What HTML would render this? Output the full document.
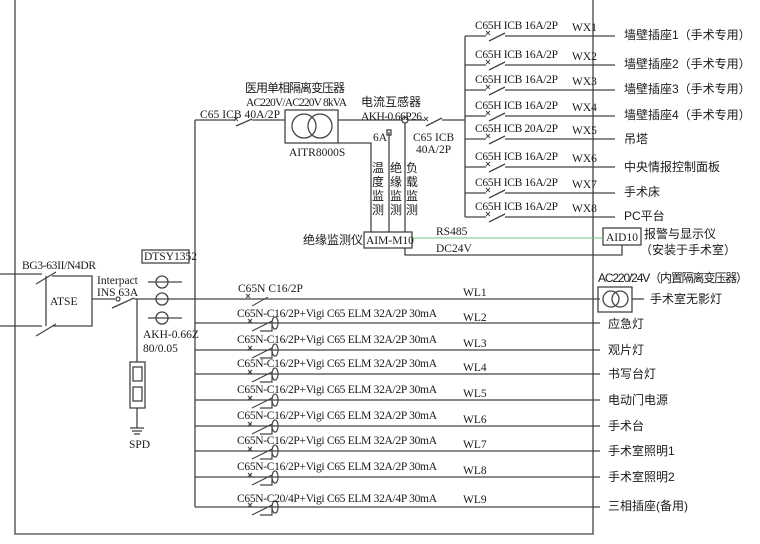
<!DOCTYPE html>
<html><head><meta charset="utf-8"><style>
html,body{margin:0;padding:0;background:#fff;}
svg{display:block;}
text{font-family:"Liberation Serif","Noto Serif CJK SC",serif;font-size:11.5px;fill:#1a1a1a;}
.c{font-family:"Liberation Sans","Noto Sans CJK SC",sans-serif;font-size:12px;}
</style></head><body>
<svg width="760" height="544" viewBox="0 0 760 544" xmlns="http://www.w3.org/2000/svg">
<g stroke="#444" stroke-width="1.3" fill="none">
<polyline points="15,0 15,534 593,534 593,0"/>
<line x1="0" y1="274" x2="42" y2="274"/>
<line x1="0" y1="326" x2="42" y2="326"/>
<line x1="36" y1="284" x2="56" y2="272"/>
<line x1="36" y1="336" x2="56" y2="324"/>
<polyline points="52,276 92,276 92,326 52,326"/>
<line x1="46" y1="276" x2="46" y2="326"/>
<line x1="92" y1="299" x2="115" y2="299"/>
<circle cx="118" cy="299" r="2"/>
<line x1="112" y1="308" x2="134" y2="298"/>
<line x1="134" y1="299" x2="600" y2="299"/>
<line x1="137" y1="299" x2="137" y2="362"/>
<rect x="130" y="362" width="15" height="46"/>
<rect x="133" y="367" width="9" height="14"/>
<rect x="133" y="387" width="9" height="14"/>
<line x1="137" y1="408" x2="137" y2="428"/>
<line x1="130" y1="428" x2="144" y2="428"/>
<line x1="132" y1="431" x2="142" y2="431"/>
<line x1="134" y1="434" x2="140" y2="434"/>
<rect x="142" y="250" width="47" height="13"/>
<circle cx="162" cy="282" r="6"/><line x1="148" y1="282" x2="182" y2="282"/>
<circle cx="162" cy="299" r="6"/>
<circle cx="162" cy="318" r="6"/><line x1="148" y1="318" x2="182" y2="318"/>
<line x1="195" y1="120" x2="195" y2="507"/>
<line x1="195" y1="120" x2="235" y2="120"/>
<line x1="236" y1="126" x2="252" y2="119"/>
<line x1="252" y1="120" x2="285" y2="120"/>
<rect x="285" y="110" width="53" height="33"/>
<circle cx="304" cy="126" r="12"/><circle cx="320" cy="126" r="12"/>
<line x1="338" y1="120" x2="402" y2="120"/>
<circle cx="405" cy="120" r="3"/>
<line x1="408" y1="120" x2="424" y2="120"/>
<line x1="426" y1="126" x2="442" y2="118"/>
<line x1="442" y1="120" x2="465" y2="120"/>
<polyline points="338,143 371,143 371,232"/>
<line x1="389" y1="132" x2="389" y2="232"/>
<rect x="387" y="130" width="4" height="5"/>
<line x1="405" y1="123" x2="405" y2="232"/>
<rect x="364" y="232" width="48" height="16"/>
<polyline points="405,248 405,255 622,255 622,245"/>
<rect x="603" y="228" width="38" height="17"/>
<line x1="465" y1="36" x2="465" y2="217"/>
<rect x="598" y="287" width="34" height="25"/>
<circle cx="611" cy="299" r="8"/><circle cx="620" cy="299" r="8"/>
<line x1="632" y1="299" x2="644" y2="299"/>
</g>
<line x1="412" y1="238" x2="603" y2="238" stroke="#7ac27a" stroke-width="1"/>
<g stroke="#444" stroke-width="1.3" fill="none">
<path d="M465,36H486M489,41L505,33M505,36H615"/>
<path d="M465,65H486M489,70L505,62M505,65H615"/>
<path d="M465,90H486M489,95L505,87M505,90H615"/>
<path d="M465,116H486M489,121L505,113M505,116H615"/>
<path d="M465,139H486M489,144L505,136M505,139H615"/>
<path d="M465,167H486M489,172L505,164M505,167H615"/>
<path d="M465,193H486M489,198L505,190M505,193H615"/>
<path d="M465,217H486M489,222L505,214M505,217H615"/>
</g>
<g stroke="#444" stroke-width="1" fill="none">
<path d="M486,31l4,4m0,-4l-4,4M486,60l4,4m0,-4l-4,4M486,85l4,4m0,-4l-4,4M486,111l4,4m0,-4l-4,4M486,134l4,4m0,-4l-4,4M486,162l4,4m0,-4l-4,4M486,188l4,4m0,-4l-4,4M486,212l4,4m0,-4l-4,4"/>
<path d="M246,294l4,4m0,-4l-4,4M234,117l4,4m0,-4l-4,4M424,117l4,4m0,-4l-4,4"/>
<path d="M252,306L268,297"/>
</g>
<g stroke="#444" stroke-width="1.2" fill="none">
<path d="M195,323H600M248,319l4,4m0,-4l-4,4M252,331L272,321M260,331H272V321M275,317a3,6 0 1,0 0.1,0"/>
<path d="M195,350H600M248,346l4,4m0,-4l-4,4M252,358L272,348M260,358H272V348M275,344a3,6 0 1,0 0.1,0"/>
<path d="M195,374H600M248,370l4,4m0,-4l-4,4M252,382L272,372M260,382H272V372M275,368a3,6 0 1,0 0.1,0"/>
<path d="M195,400H600M248,396l4,4m0,-4l-4,4M252,408L272,398M260,408H272V398M275,394a3,6 0 1,0 0.1,0"/>
<path d="M195,426H600M248,422l4,4m0,-4l-4,4M252,434L272,424M260,434H272V424M275,420a3,6 0 1,0 0.1,0"/>
<path d="M195,451H600M248,447l4,4m0,-4l-4,4M252,459L272,449M260,459H272V449M275,445a3,6 0 1,0 0.1,0"/>
<path d="M195,477H600M248,473l4,4m0,-4l-4,4M252,485L272,475M260,485H272V475M275,471a3,6 0 1,0 0.1,0"/>
<path d="M195,507H600M248,503l4,4m0,-4l-4,4M252,515L272,505M260,515H272V505M275,501a3,6 0 1,0 0.1,0"/>
</g>
<text x="22" y="269" textLength="74">BG3-63II/N4DR</text>
<text x="50" y="305" font-size="12">ATSE</text>
<text x="97" y="284">Interpact</text>
<text x="97" y="296">INS 63A</text>
<text x="144" y="260" font-size="11">DTSY1352</text>
<text x="143" y="338">AKH-0.66Z</text>
<text x="143" y="352">80/0.05</text>
<text x="129" y="448">SPD</text>
<text x="200" y="118" textLength="80">C65 ICB  40A/2P</text>
<text class="c" x="245" y="92" textLength="100">医用单相隔离变压器</text>
<text x="246" y="106" textLength="101">AC220V/AC220V 8kVA</text>
<text x="289" y="156">AITR8000S</text>
<text class="c" x="361" y="106">电流互感器</text>
<text x="361" y="120" textLength="61">AKH-0.66P26</text>
<text x="373" y="141">6A</text>
<text x="413" y="141" font-size="10.5">C65 ICB</text>
<text x="416" y="153" font-size="10.5">40A/2P</text>
<text class="c" x="372" y="172">温</text><text class="c" x="372" y="186">度</text><text class="c" x="372" y="200">监</text><text class="c" x="372" y="214">测</text>
<text class="c" x="390" y="172">绝</text><text class="c" x="390" y="186">缘</text><text class="c" x="390" y="200">监</text><text class="c" x="390" y="214">测</text>
<text class="c" x="406" y="172">负</text><text class="c" x="406" y="186">载</text><text class="c" x="406" y="200">监</text><text class="c" x="406" y="214">测</text>
<text class="c" x="303" y="244">绝缘监测仪</text>
<text x="366" y="244">AIM-M10</text>
<text x="436" y="235">RS485</text>
<text x="436" y="252">DC24V</text>
<text x="606" y="241">AID10</text>
<text class="c" x="644" y="238">报警与显示仪</text>
<text class="c" x="640" y="254">（安装于手术室）</text>
<g>
<text x="475" y="29" textLength="83">C65H  ICB  16A/2P</text><text x="572" y="31">WX1</text>
<text x="475" y="58" textLength="83">C65H  ICB  16A/2P</text><text x="572" y="60">WX2</text>
<text x="475" y="83" textLength="83">C65H  ICB  16A/2P</text><text x="572" y="85">WX3</text>
<text x="475" y="109" textLength="83">C65H  ICB  16A/2P</text><text x="572" y="111">WX4</text>
<text x="475" y="132" textLength="83">C65H  ICB  20A/2P</text><text x="572" y="134">WX5</text>
<text x="475" y="160" textLength="83">C65H  ICB  16A/2P</text><text x="572" y="162">WX6</text>
<text x="475" y="186" textLength="83">C65H  ICB  16A/2P</text><text x="572" y="188">WX7</text>
<text x="475" y="210" textLength="83">C65H  ICB  16A/2P</text><text x="572" y="212">WX8</text>
</g>
<text class="c" x="624" y="39">墙壁插座1（手术专用）</text>
<text class="c" x="624" y="68">墙壁插座2（手术专用）</text>
<text class="c" x="624" y="93">墙壁插座3（手术专用）</text>
<text class="c" x="624" y="119">墙壁插座4（手术专用）</text>
<text class="c" x="624" y="143">吊塔</text>
<text class="c" x="624" y="171">中央情报控制面板</text>
<text class="c" x="624" y="196">手术床</text>
<text class="c" x="624" y="220">PC平台</text>
<text class="c" x="598" y="282" font-size="11" textLength="150">AC220/24V（内置隔离变压器）</text>
<text class="c" x="650" y="303">手术室无影灯</text>
<text class="c" x="608" y="328">应急灯</text>
<text class="c" x="608" y="354">观片灯</text>
<text class="c" x="608" y="378">书写台灯</text>
<text class="c" x="608" y="404">电动门电源</text>
<text class="c" x="608" y="430">手术台</text>
<text class="c" x="608" y="455">手术室照明1</text>
<text class="c" x="608" y="481">手术室照明2</text>
<text class="c" x="608" y="510">三相插座(备用)</text>
<text x="238" y="292">C65N C16/2P</text>
<text x="237" y="317" textLength="200">C65N-C16/2P+Vigi C65 ELM 32A/2P 30mA</text>
<text x="237" y="343" textLength="200">C65N-C16/2P+Vigi C65 ELM 32A/2P 30mA</text>
<text x="237" y="367" textLength="200">C65N-C16/2P+Vigi C65 ELM 32A/2P 30mA</text>
<text x="237" y="393" textLength="200">C65N-C16/2P+Vigi C65 ELM 32A/2P 30mA</text>
<text x="237" y="419" textLength="200">C65N-C16/2P+Vigi C65 ELM 32A/2P 30mA</text>
<text x="237" y="444" textLength="200">C65N-C16/2P+Vigi C65 ELM 32A/2P 30mA</text>
<text x="237" y="470" textLength="200">C65N-C16/2P+Vigi C65 ELM 32A/2P 30mA</text>
<text x="237" y="502" textLength="200">C65N-C20/4P+Vigi C65 ELM 32A/4P 30mA</text>
<text x="463" y="296">WL1</text>
<text x="463" y="321">WL2</text>
<text x="463" y="347">WL3</text>
<text x="463" y="371">WL4</text>
<text x="463" y="397">WL5</text>
<text x="463" y="423">WL6</text>
<text x="463" y="448">WL7</text>
<text x="463" y="474">WL8</text>
<text x="463" y="503">WL9</text>
</svg>
</body></html>
